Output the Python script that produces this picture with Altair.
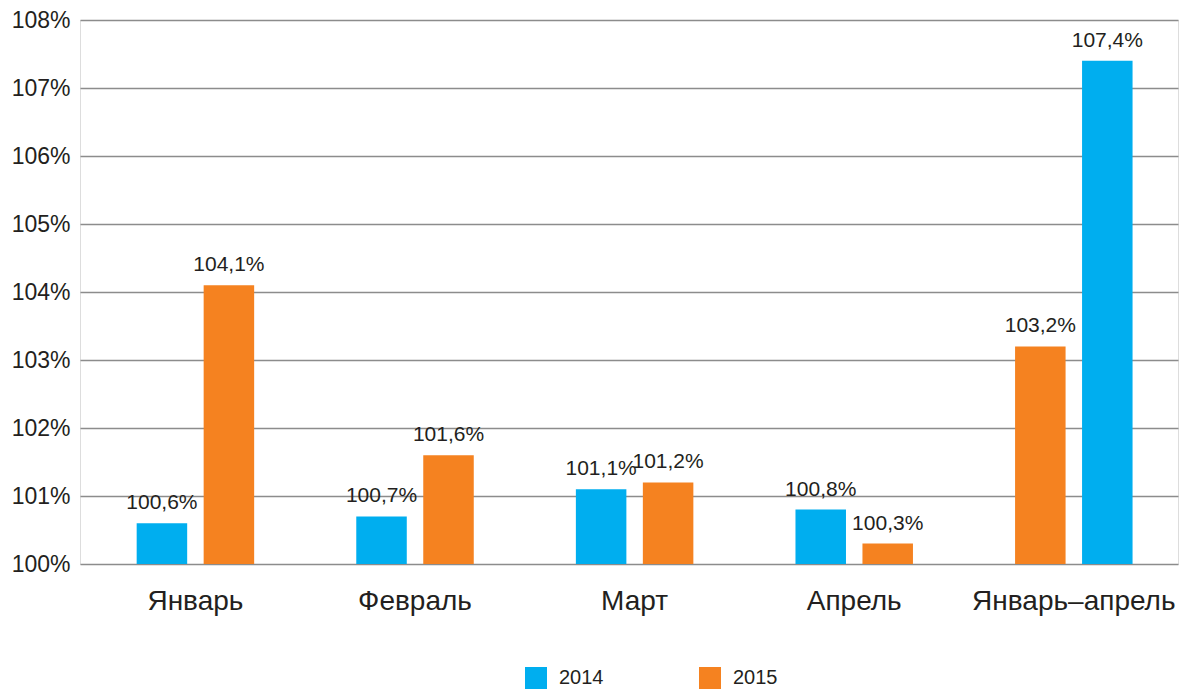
import altair as alt
import pandas as pd

categories = ["Январь", "Февраль", "Март", "Апрель", "Январь–апрель"]
series = ["2014", "2015"]
values_2014 = [100.6, 100.7, 101.1, 100.8, 107.4]
values_2015 = [104.1, 101.6, 101.2, 100.3, 103.2]
# order of the 2014 bar inside each group (0 = left, 1 = right)
order_2014 = [0, 0, 0, 0, 1]
y_ticks = [100, 101, 102, 103, 104, 105, 106, 107, 108]

rows = []
for i, cat in enumerate(categories):
    rows.append({"category": cat, "series": "2014", "value": values_2014[i], "slot": order_2014[i]})
    rows.append({"category": cat, "series": "2015", "value": values_2015[i], "slot": 1 - order_2014[i]})
df = pd.DataFrame(rows)

FONT = "Liberation Sans"
TXT = "#231F20"

x_enc = alt.X(
    "category:N",
    sort=categories,
    scale=alt.Scale(paddingInner=0.465, paddingOuter=0.2325, align=0.555),
    axis=alt.Axis(title=None, labelAngle=0, labelFontSize=28, labelFont=FONT,
                  labelColor=TXT, ticks=False, domain=False, labelPadding=23,
                  labelFlush=False, labelLimit=0, grid=False),
)
xoff = alt.XOffset("slot:O", scale=alt.Scale(paddingInner=0.246, paddingOuter=0))
y_enc = alt.Y(
    "value:Q",
    scale=alt.Scale(domain=[100, 108], nice=False, zero=False),
    axis=alt.Axis(title=None, values=y_ticks, labelExpr="datum.value + '%'",
                  labelFontSize=23, labelFont=FONT, labelColor=TXT, ticks=False,
                  domain=False, grid=True, gridColor="#8c8c8c", gridWidth=1.5,
                  labelPadding=10, minExtent=72, maxExtent=72),
)

bars = alt.Chart(df).mark_bar(clip=True).encode(
    x=x_enc,
    xOffset=xoff,
    y=y_enc,
    y2=alt.datum(100),
    color=alt.Color(
        "series:N",
        scale=alt.Scale(domain=series, range=["#00AEEF", "#F58220"]),
        legend=alt.Legend(title=None, orient="none", legendX=445, legendY=647,
                          direction="horizontal", symbolType="square",
                          symbolSize=484, symbolStrokeWidth=0, labelFontSize=20,
                          labelFont=FONT, labelColor=TXT, labelOffset=12,
                          columnPadding=95),
    ),
)

labels = alt.Chart(df).mark_text(
    fontSize=21, font=FONT, color=TXT, baseline="alphabetic", dy=-14
).encode(
    x=alt.X("category:N", sort=categories),
    xOffset=alt.XOffset("slot:O"),
    y=alt.Y("value:Q"),
    text=alt.Text("label:N"),
).transform_calculate(
    label="replace(format(datum.value, '.1f'), '.', ',') + '%'"
)

chart = (
    alt.layer(bars, labels)
    .properties(width=1098, height=544,
                padding={"left": 0, "top": 1, "right": 5, "bottom": 0})
    .configure_view(strokeWidth=0, stroke="transparent")
    .configure(background="white")
)

chart.save("out.html", embed_options={"renderer": "svg", "actions": False})
